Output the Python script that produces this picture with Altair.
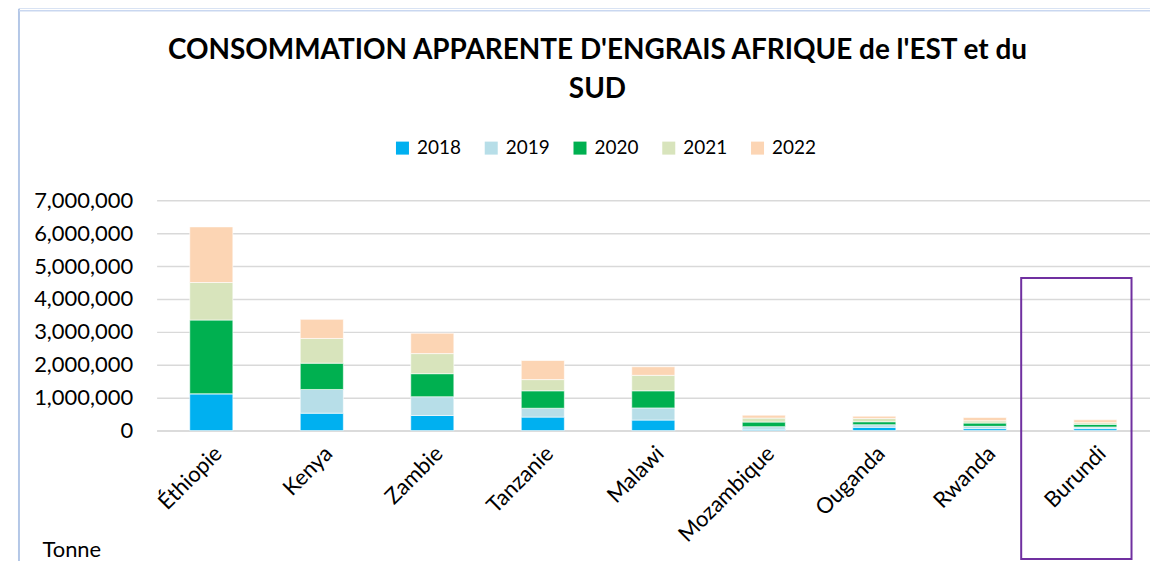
import altair as alt
import pandas as pd

countries = ["Éthiopie", "Kenya", "Zambie", "Tanzanie", "Malawi",
             "Mozambique", "Ouganda", "Rwanda", "Burundi"]
years = ["2018", "2019", "2020", "2021", "2022"]
v2018 = [1120000, 530000, 460000, 410000, 320000, 40000, 100000, 60000, 60000]
v2019 = [0, 720000, 570000, 270000, 370000, 80000, 80000, 70000, 50000]
v2020 = [2240000, 800000, 700000, 530000, 520000, 140000, 90000, 100000, 80000]
v2021 = [1140000, 750000, 610000, 340000, 470000, 120000, 100000, 70000, 50000]
v2022 = [1690000, 580000, 620000, 580000, 260000, 90000, 70000, 100000, 90000]
colors = ["#00B0F0", "#B7DEE8", "#00B050", "#D8E4BC", "#FCD5B4"]
y_ticks = [0, 1000000, 2000000, 3000000, 4000000, 5000000, 6000000, 7000000]

title_lines = ["CONSOMMATION APPARENTE D'ENGRAIS AFRIQUE de l'EST et du", "SUD"]
highlight_country = ["Burundi"]
highlight_top = [4640000]
highlight_bottom = [-3900000]

rows = []
for yr, vals in zip(years, [v2018, v2019, v2020, v2021, v2022]):
    for c, v in zip(countries, vals):
        rows.append({"Pays": c, "Année": yr, "Valeur": v})
df = pd.DataFrame(rows)

FONT = "Lato"
W, H = 996, 231

xscale = alt.Scale(domain=countries, paddingInner=0.61, paddingOuter=0.30)
yscale = alt.Scale(domain=[0, 7000000], nice=False)

x_axis = alt.Axis(labelAngle=-45, labelFontSize=22, labelFont=FONT,
                  labelColor="#000000", ticks=False, labelPadding=12,
                  labelOverlap=False,
                  domain=True, domainColor="#D9D9D9", domainWidth=1.5,
                  title="Tonne", titleFont=FONT, titleFontSize=22,
                  titleFontWeight="normal", titleColor="#000000",
                  titleX=-115, titleY=126, titleAlign="left",
                  titleBaseline="alphabetic", titleAngle=0)
y_axis = alt.Axis(values=y_ticks, format=",d", labelFontSize=22,
                  labelFont=FONT, labelColor="#000000", ticks=False,
                  labelOverlap=False, tickCount=8,
                  labelPadding=24, domain=False, grid=True,
                  gridColor="#D9D9D9", gridWidth=1.5, title=None)

bars = alt.Chart(df).mark_bar(stroke="white", strokeWidth=0.6).encode(
    x=alt.X("Pays:N", sort=countries, scale=xscale, axis=x_axis),
    y=alt.Y("Valeur:Q", stack="zero", scale=yscale, axis=y_axis),
    color=alt.Color("Année:N", scale=alt.Scale(domain=years, range=colors),
                    legend=alt.Legend(orient="none", legendX=237, legendY=-62,
                                      direction="horizontal", title=None,
                                      symbolType="square", symbolSize=170,
                                      symbolStrokeWidth=0, labelFontSize=19,
                                      labelFont=FONT, labelColor="#000000",
                                      labelOffset=5, columnPadding=20)),
    order=alt.Order("Année:N", sort="ascending"),
)

hl_df = pd.DataFrame({"Pays": highlight_country, "Haut": highlight_top,
                      "Bas": highlight_bottom})
box = alt.Chart(hl_df).mark_rect(filled=False, stroke="#7030A0", strokeWidth=2,
                                  clip=False, width={"band": 2.56},
                                  xOffset=-19).encode(
    x=alt.X("Pays:N", sort=countries, scale=xscale, axis=x_axis),
    y=alt.Y("Haut:Q", scale=yscale, axis=y_axis),
    y2=alt.Y2("Bas:Q"),
)

t1 = alt.Chart(pd.DataFrame({"t": [title_lines[0]]})).mark_text(
    font=FONT, fontSize=28, fontWeight="bold", align="center",
    baseline="alphabetic", color="#000000").encode(
    text="t:N", x=alt.value(442), y=alt.value(-142))
t2 = alt.Chart(pd.DataFrame({"t": [title_lines[1]]})).mark_text(
    font=FONT, fontSize=28, fontWeight="bold", align="center",
    baseline="alphabetic", color="#000000").encode(
    text="t:N", x=alt.value(442), y=alt.value(-102))

frame_v = alt.Chart(pd.DataFrame({"a": [0]})).mark_rule(
    color="#B4C7E7", strokeWidth=2, clip=False).encode(
    x=alt.value(-138), y=alt.value(-192), y2=alt.value(371))
frame_h1 = alt.Chart(pd.DataFrame({"a": [0]})).mark_rule(
    color="#B4C7E7", strokeWidth=1.5, clip=False).encode(
    x=alt.value(-138), x2=alt.value(1001), y=alt.value(-193))
frame_h2 = alt.Chart(pd.DataFrame({"a": [0]})).mark_rule(
    color="#C9D7F0", strokeWidth=1.5, clip=False).encode(
    x=alt.value(-138), x2=alt.value(1001), y=alt.value(-190))

chart = alt.layer(bars, box, frame_v, frame_h1, frame_h2, t1, t2).properties(
    width=W, height=H,
    autosize=alt.AutoSizeParams(type="none"),
    padding={"left": 149, "top": 192, "right": 0, "bottom": 130},
    background="white",
).configure_view(stroke=None)

chart.save("out.html", embed_options={"renderer": "svg", "actions": False})
